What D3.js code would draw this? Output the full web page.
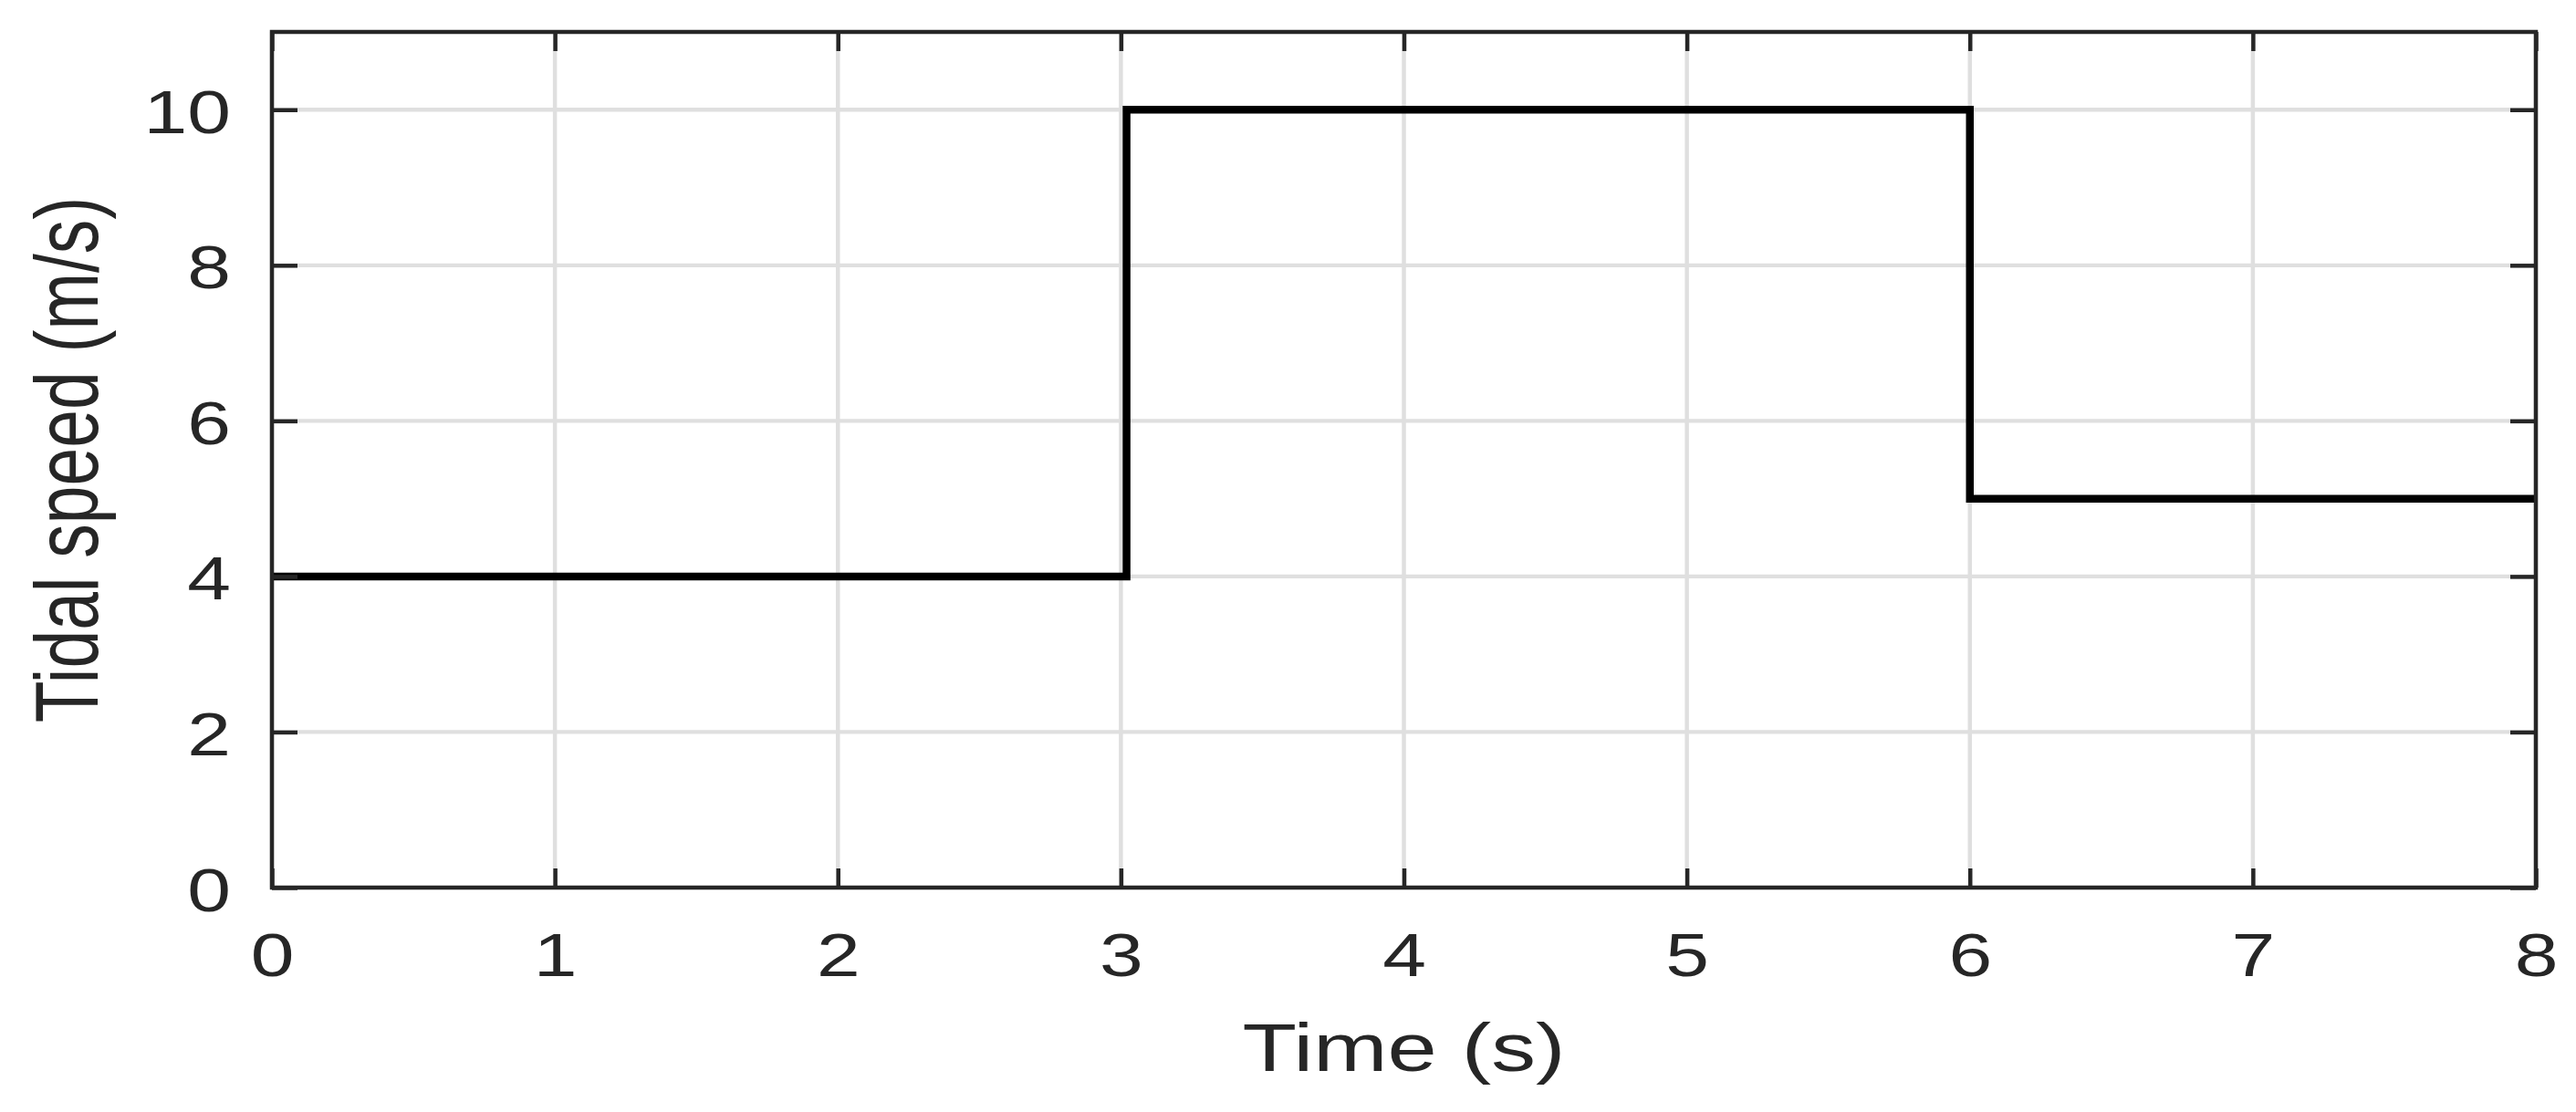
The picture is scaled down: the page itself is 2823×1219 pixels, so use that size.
<!DOCTYPE html>
<html>
<head>
<meta charset="utf-8">
<script src="https://cdn.jsdelivr.net/npm/d3@7"></script>
<style>
  body { margin: 0; background: #fff; }
  text { font-family: "Liberation Sans", Arial, sans-serif; fill: #262626; }
</style>
</head>
<body>
<div class="chart-area"></div>
<script>
var times = [0, 3.02, 6, 8],
    speeds = [4, 10, 5, 5],
    xTicks = [0, 1, 2, 3, 4, 5, 6, 7, 8],
    yTicks = [0, 2, 4, 6, 8, 10];

var chartWidth = 2823,
    chartHeight = 1219,
    plotLeft = 298, plotRight = 2779, plotTop = 35, plotBottom = 973,
    stretch = 1.3,   // the source figure is stretched sideways
    axisColor = "#262626";

var x = d3.scaleLinear().domain([0, 8]).range([plotLeft, plotRight]),
    y = d3.scaleLinear().domain([0, 11]).range([plotBottom, plotTop]);

var svg = d3.select(".chart-area")
            .append("svg")
            .attr("width", chartWidth)
            .attr("height", chartHeight);

svg.append("rect")
   .attr("width", chartWidth)
   .attr("height", chartHeight)
   .attr("fill", "#fff");

// grid
svg.selectAll(".vgrid")
   .data(xTicks)
   .enter()
   .append("line")
   .attr("class", "vgrid")
   .attr("x1", function(d) { return x(d) })
   .attr("x2", function(d) { return x(d) })
   .attr("y1", plotTop)
   .attr("y2", plotBottom)
   .attr("stroke", "#dfdfdf")
   .attr("stroke-width", 4.5);

svg.selectAll(".hgrid")
   .data(yTicks)
   .enter()
   .append("line")
   .attr("class", "hgrid")
   .attr("x1", plotLeft)
   .attr("x2", plotRight)
   .attr("y1", function(d) { return y(d) })
   .attr("y2", function(d) { return y(d) })
   .attr("stroke", "#dfdfdf")
   .attr("stroke-width", 4.3);

// tidal speed step
var line = d3.line()
             .curve(d3.curveStepAfter)
             .x(function(d, i) { return x(times[i]) })
             .y(function(d, i) { return y(speeds[i]) });

svg.append("path")
   .datum(speeds)
   .attr("d", line)
   .attr("fill", "none")
   .attr("stroke", "#000")
   .attr("stroke-width", 8.5)
   .attr("stroke-linejoin", "miter");

// axes
function styleAxis(g) {
  g.select(".domain").remove();
  g.selectAll(".tick line").attr("stroke", axisColor).attr("stroke-width", 4.5);
}

svg.append("g")
   .attr("transform", "translate(0," + plotBottom + ")")
   .call(d3.axisBottom(x).tickValues(xTicks).tickSizeInner(-21).tickSizeOuter(0))
   .call(styleAxis)
   .selectAll("text")
   .attr("y", 97)
   .attr("dy", null)
   .attr("transform", "scale(" + stretch + ",1)")
   .style("font-size", "66px");

svg.append("g")
   .attr("transform", "translate(0," + plotTop + ")")
   .call(d3.axisTop(x).tickValues(xTicks).tickSizeInner(-21).tickSizeOuter(0).tickFormat(""))
   .call(styleAxis);

svg.append("g")
   .attr("transform", "translate(" + plotLeft + ",0)")
   .call(d3.axisLeft(y).tickValues(yTicks).tickSizeInner(-28).tickSizeOuter(0))
   .call(styleAxis)
   .selectAll("text")
   .attr("x", -45 / stretch)
   .attr("y", 25)
   .attr("dy", null)
   .attr("transform", "scale(" + stretch + ",1)")
   .style("font-size", "66px");

svg.append("g")
   .attr("transform", "translate(" + plotRight + ",0)")
   .call(d3.axisRight(y).tickValues(yTicks).tickSizeInner(-28).tickSizeOuter(0).tickFormat(""))
   .call(styleAxis);

svg.append("rect")
   .attr("x", plotLeft)
   .attr("y", plotTop)
   .attr("width", plotRight - plotLeft)
   .attr("height", plotBottom - plotTop)
   .attr("fill", "none")
   .attr("stroke", axisColor)
   .attr("stroke-width", 4.5);

// axis titles
svg.append("text")
   .attr("transform", "translate(" + (plotLeft + plotRight) / 2 + ",1174) scale(" + stretch + ",1)")
   .attr("text-anchor", "middle")
   .style("font-size", "75px")
   .text("Time (s)");

svg.append("text")
   .attr("transform", "translate(107," + (plotTop + plotBottom) / 2 + ") scale(" + stretch + ",1) rotate(-90)")
   .attr("text-anchor", "middle")
   .style("font-size", "75px")
   .text("Tidal speed (m/s)");
</script>
</body>
</html>
